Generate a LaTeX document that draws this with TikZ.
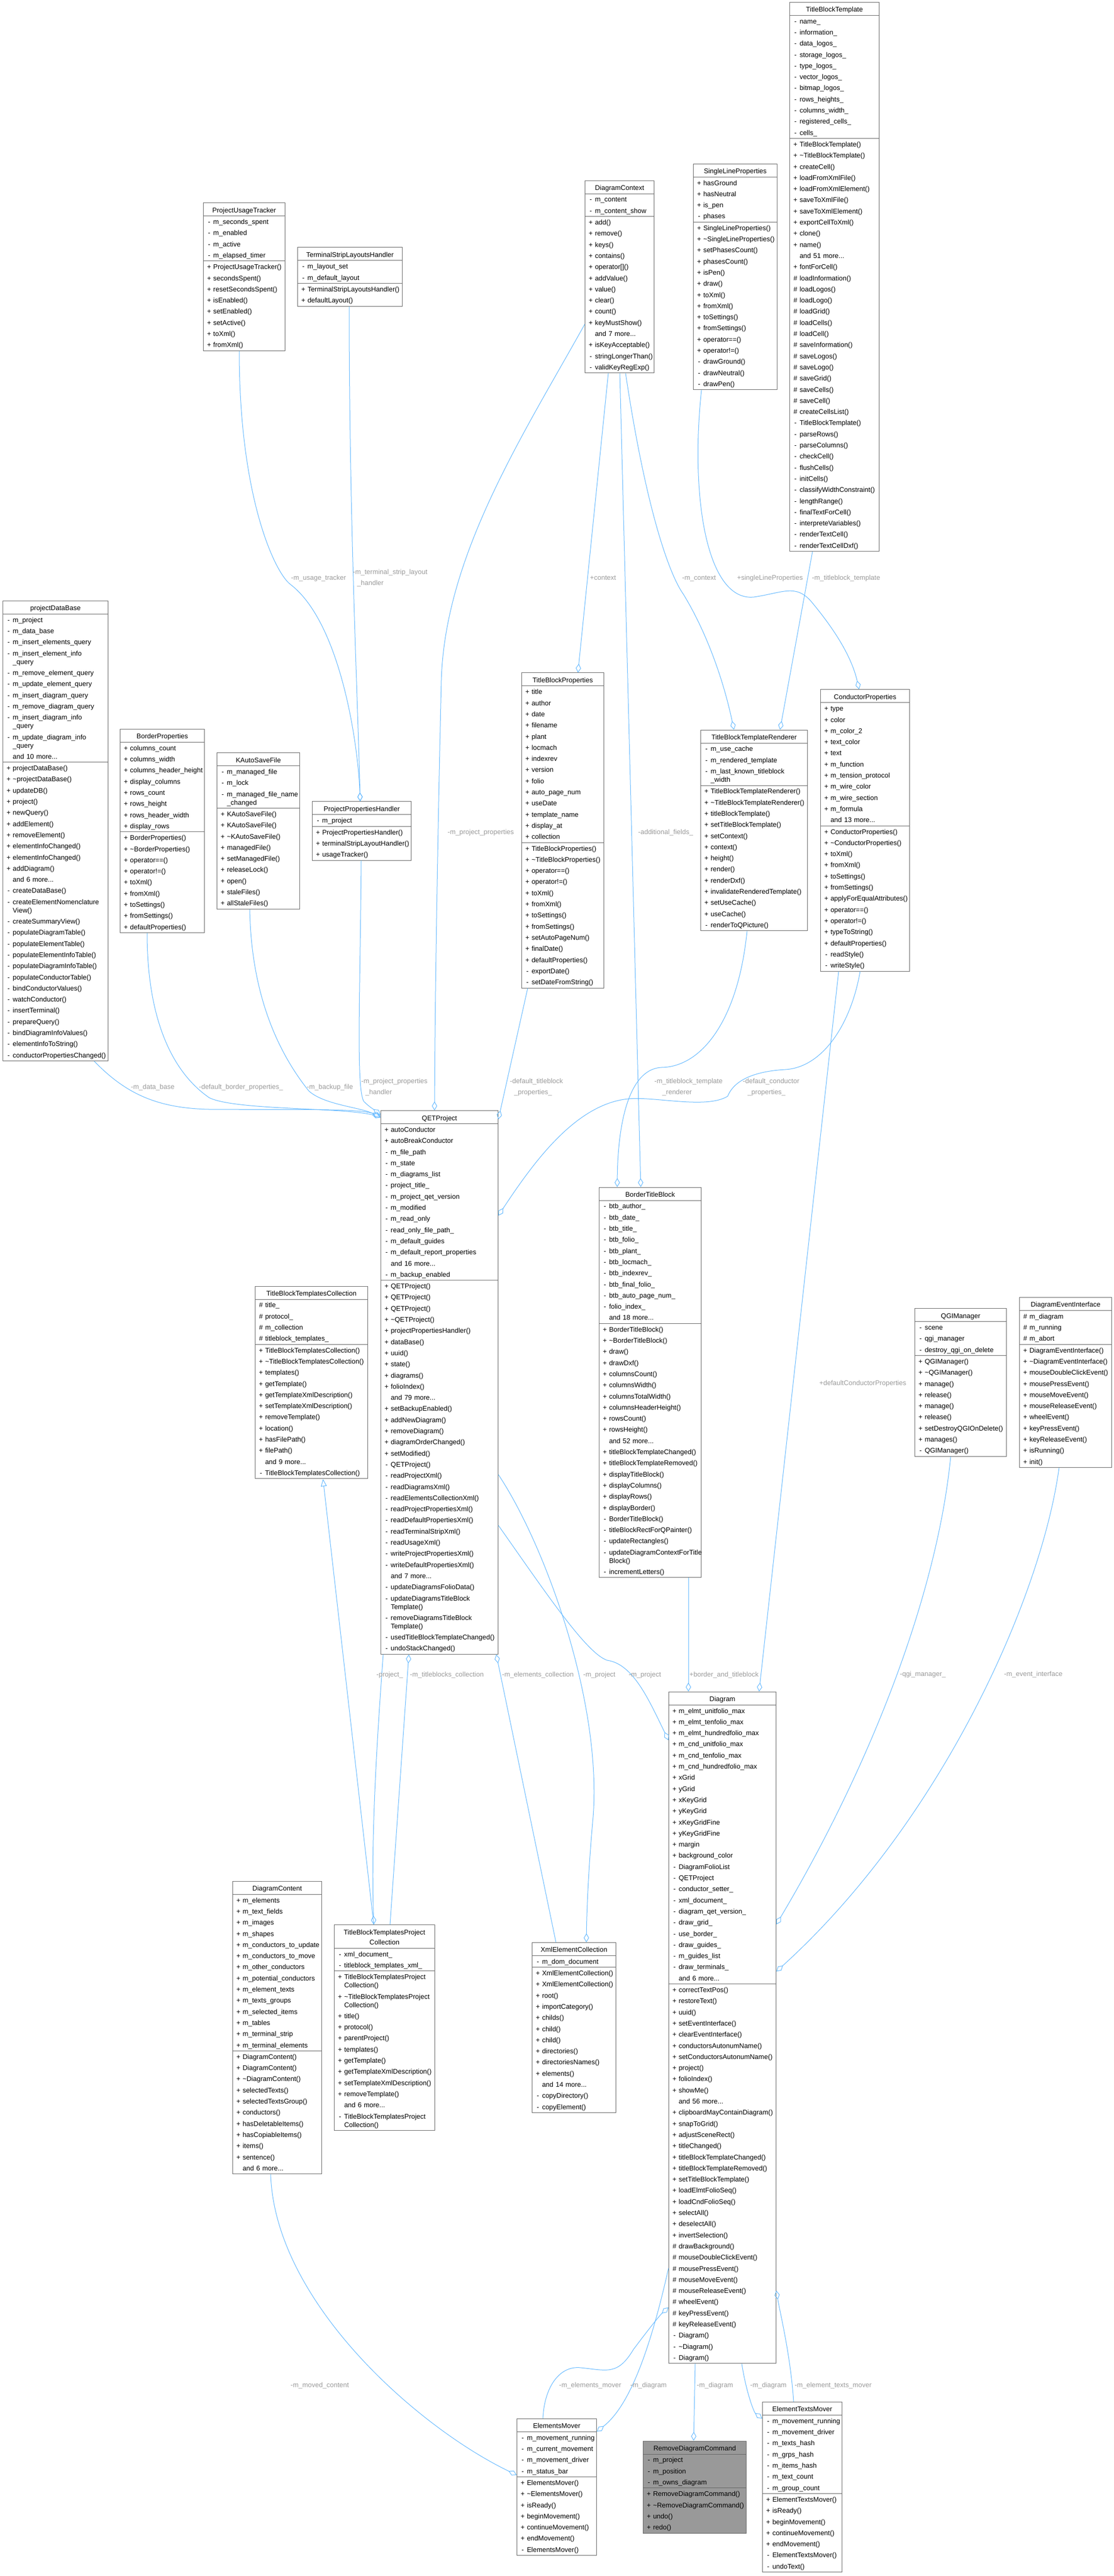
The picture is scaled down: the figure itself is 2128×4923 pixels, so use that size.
\documentclass[tikz,border=0pt]{standalone}
\usepackage{fontspec}
\setmainfont{Liberation Sans}
\usetikzlibrary{shapes.multipart, arrows.meta, calc}
\definecolor{edgeblue}{HTML}{63B8FF}
\definecolor{boxgray}{HTML}{666666}
\definecolor{lblgray}{HTML}{9A9A9A}
\definecolor{cmdfill}{HTML}{999999}
% one row of a class box, the title row, a wrapped row
\newcommand{\rs}{\rule[-5.95pt]{0pt}{21.3pt}}
\newcommand{\ts}{\rule[-6pt]{0pt}{24pt}}
\newcommand{\ls}{\rule[-5.5pt]{0pt}{21pt}}
\newcommand{\ent}[2]{\mbox{\makebox[16pt]{#1}#2}\rs}
\newcommand{\ttl}[1]{\makebox[\linewidth]{#1}\ts}
\newcommand{\wrp}{\\[-5.3pt]}
\newcommand{\tld}{\textasciitilde}
\newcommand{\boxfont}{\fontsize{13}{21.3}\selectfont}
\newcommand{\lblfont}{\fontsize{13}{21}\selectfont}

\begin{document}
\lineskiplimit=-1000pt\relax
\begin{tikzpicture}[x=1pt, y=-1pt,
    cls/.style={rectangle split, rectangle split parts=3, draw=boxgray, line width=1pt,
        fill=white, inner xsep=3pt, inner ysep=0pt, align=left, anchor=west, font=\boxfont},
    lbl/.style={inner sep=0pt, anchor=west, text=lblgray, align=left, font=\lblfont},
    agg/.style={draw=edgeblue, line width=1pt, -{Diamond[open, length=17pt, width=10pt]}},
    inh/.style={draw=edgeblue, line width=1pt, -{Triangle[open, length=14pt, width=11pt]}}]
\useasboundingbox (0,0) rectangle (2128,4923);

% first rank
\node[cls, text width=150pt] (put) at (388,529) {\ttl{ProjectUsageTracker}
    \nodepart{second}\ent-{m\_seconds\_spent}\\\ent-{m\_enabled}\\\ent-{m\_active}\\\ent-{m\_elapsed\_timer}
    \nodepart{third}\ent+{ProjectUsageTracker()}\\\ent+{secondsSpent()}\\\ent+{resetSecondsSpent()}\\\ent+{isEnabled()}\\\ent+{setEnabled()}\\\ent+{setActive()}\\\ent+{toXml()}\\\ent+{fromXml()}};
\node[cls, text width=194pt] (tslh) at (568,529) {\ttl{TerminalStripLayoutsHandler}
    \nodepart{second}\ent-{m\_layout\_set}\\\ent-{m\_default\_layout}
    \nodepart{third}\ent+{TerminalStripLayoutsHandler()}\\\ent+{defaultLayout()}};
\node[cls, text width=126pt] (dctx) at (1117,529) {\ttl{DiagramContext}
    \nodepart{second}\ent-{m\_content}\\\ent-{m\_content\_show}
    \nodepart{third}\ent+{add()}\\\ent+{remove()}\\\ent+{keys()}\\\ent+{contains()}\\\ent+{operator[]()}\\\ent+{addValue()}\\\ent+{value()}\\\ent+{clear()}\\\ent+{count()}\\\ent+{keyMustShow()}\\\ent{}{and 7 more...}\\\ent+{isKeyAcceptable()}\\\ent-{stringLongerThan()}\\\ent-{validKeyRegExp()}};
\node[cls, text width=154pt] (slp) at (1324,529) {\ttl{SingleLineProperties}
    \nodepart{second}\ent+{hasGround}\\\ent+{hasNeutral}\\\ent+{is\_pen}\\\ent-{phases}
    \nodepart{third}\ent+{SingleLineProperties()}\\\ent+{\tld SingleLineProperties()}\\\ent+{setPhasesCount()}\\\ent+{phasesCount()}\\\ent+{isPen()}\\\ent+{draw()}\\\ent+{toXml()}\\\ent+{fromXml()}\\\ent+{toSettings()}\\\ent+{fromSettings()}\\\ent+{operator==()}\\\ent+{operator!=()}\\\ent-{drawGround()}\\\ent-{drawNeutral()}\\\ent-{drawPen()}};
\node[cls, text width=165pt] (tbt) at (1508,529) {\ttl{TitleBlockTemplate}
    \nodepart{second}\ent-{name\_}\\\ent-{information\_}\\\ent-{data\_logos\_}\\\ent-{storage\_logos\_}\\\ent-{type\_logos\_}\\\ent-{vector\_logos\_}\\\ent-{bitmap\_logos\_}\\\ent-{rows\_heights\_}\\\ent-{columns\_width\_}\\\ent-{registered\_cells\_}\\\ent-{cells\_}
    \nodepart{third}\ent+{TitleBlockTemplate()}\\\ent+{\tld TitleBlockTemplate()}\\\ent+{createCell()}\\\ent+{loadFromXmlFile()}\\\ent+{loadFromXmlElement()}\\\ent+{saveToXmlFile()}\\\ent+{saveToXmlElement()}\\\ent+{exportCellToXml()}\\\ent+{clone()}\\\ent+{name()}\\\ent{}{and 51 more...}\\\ent+{fontForCell()}\\\ent\#{loadInformation()}\\\ent\#{loadLogos()}\\\ent\#{loadLogo()}\\\ent\#{loadGrid()}\\\ent\#{loadCells()}\\\ent\#{loadCell()}\\\ent\#{saveInformation()}\\\ent\#{saveLogos()}\\\ent\#{saveLogo()}\\\ent\#{saveGrid()}\\\ent\#{saveCells()}\\\ent\#{saveCell()}\\\ent\#{createCellsList()}\\\ent-{TitleBlockTemplate()}\\\ent-{parseRows()}\\\ent-{parseColumns()}\\\ent-{checkCell()}\\\ent-{flushCells()}\\\ent-{initCells()}\\\ent-{classifyWidthConstraint()}\\\ent-{lengthRange()}\\\ent-{finalTextForCell()}\\\ent-{interpreteVariables()}\\\ent-{renderTextCell()}\\\ent-{renderTextCellDxf()}};

% second rank
\node[cls, text width=195pt] (pdb) at (5,1588) {\ttl{projectDataBase}
    \nodepart{second}\ent-{m\_project}\\\ent-{m\_data\_base}\\\ent-{m\_insert\_elements\_query}\\\ent-{m\_insert\_element\_info}\wrp\ent{}{\_query}\\\ent-{m\_remove\_element\_query}\\\ent-{m\_update\_element\_query}\\\ent-{m\_insert\_diagram\_query}\\\ent-{m\_remove\_diagram\_query}\\\ent-{m\_insert\_diagram\_info}\wrp\ent{}{\_query}\\\ent-{m\_update\_diagram\_info}\wrp\ent{}{\_query}\\\ent{}{and 10 more...}
    \nodepart{third}\ent+{projectDataBase()}\\\ent+{\tld projectDataBase()}\\\ent+{updateDB()}\\\ent+{project()}\\\ent+{newQuery()}\\\ent+{addElement()}\\\ent+{removeElement()}\\\ent+{elementInfoChanged()}\\\ent+{elementInfoChanged()}\\\ent+{addDiagram()}\\\ent{}{and 6 more...}\\\ent-{createDataBase()}\\\ent-{createElementNomenclature}\wrp\ent{}{View()}\\\ent-{createSummaryView()}\\\ent-{populateDiagramTable()}\\\ent-{populateElementTable()}\\\ent-{populateElementInfoTable()}\\\ent-{populateDiagramInfoTable()}\\\ent-{populateConductorTable()}\\\ent-{bindConductorValues()}\\\ent-{watchConductor()}\\\ent-{insertTerminal()}\\\ent-{prepareQuery()}\\\ent-{bindDiagramInfoValues()}\\\ent-{elementInfoToString()}\\\ent-{conductorPropertiesChanged()}};
\node[cls, text width=155pt] (bprop) at (229,1588) {\ttl{BorderProperties}
    \nodepart{second}\ent+{columns\_count}\\\ent+{columns\_width}\\\ent+{columns\_header\_height}\\\ent+{display\_columns}\\\ent+{rows\_count}\\\ent+{rows\_height}\\\ent+{rows\_header\_width}\\\ent+{display\_rows}
    \nodepart{third}\ent+{BorderProperties()}\\\ent+{\tld BorderProperties()}\\\ent+{operator==()}\\\ent+{operator!=()}\\\ent+{toXml()}\\\ent+{fromXml()}\\\ent+{toSettings()}\\\ent+{fromSettings()}\\\ent+{defaultProperties()}};
\node[cls, text width=152pt] (kasf) at (414,1588) {\ttl{KAutoSaveFile}
    \nodepart{second}\ent-{m\_managed\_file}\\\ent-{m\_lock}\\\ent-{m\_managed\_file\_name}\wrp\ent{}{\_changed}
    \nodepart{third}\ent+{KAutoSaveFile()}\\\ent+{KAutoSaveFile()}\\\ent+{\tld KAutoSaveFile()}\\\ent+{managedFile()}\\\ent+{setManagedFile()}\\\ent+{releaseLock()}\\\ent+{open()}\\\ent+{staleFiles()}\\\ent+{allStaleFiles()}};
\node[cls, text width=183pt] (pph) at (596,1588) {\ttl{ProjectPropertiesHandler}
    \nodepart{second}\ent-{m\_project}
    \nodepart{third}\ent+{ProjectPropertiesHandler()}\\\ent+{terminalStripLayoutHandler()}\\\ent+{usageTracker()}};
\node[cls, text width=151pt] (tbp) at (996,1587) {\ttl{TitleBlockProperties}
    \nodepart{second}\ent+{title}\\\ent+{author}\\\ent+{date}\\\ent+{filename}\\\ent+{plant}\\\ent+{locmach}\\\ent+{indexrev}\\\ent+{version}\\\ent+{folio}\\\ent+{auto\_page\_num}\\\ent+{useDate}\\\ent+{template\_name}\\\ent+{display\_at}\\\ent+{collection}
    \nodepart{third}\ent+{TitleBlockProperties()}\\\ent+{\tld TitleBlockProperties()}\\\ent+{operator==()}\\\ent+{operator!=()}\\\ent+{toXml()}\\\ent+{fromXml()}\\\ent+{toSettings()}\\\ent+{fromSettings()}\\\ent+{setAutoPageNum()}\\\ent+{finalDate()}\\\ent+{defaultProperties()}\\\ent-{exportDate()}\\\ent-{setDateFromString()}};
\node[cls, text width=198pt] (tbtr) at (1338,1587) {\ttl{TitleBlockTemplateRenderer}
    \nodepart{second}\ent-{m\_use\_cache}\\\ent-{m\_rendered\_template}\\\ent-{m\_last\_known\_titleblock}\wrp\ent{}{\_width}
    \nodepart{third}\ent+{TitleBlockTemplateRenderer()}\\\ent+{\tld TitleBlockTemplateRenderer()}\\\ent+{titleBlockTemplate()}\\\ent+{setTitleBlockTemplate()}\\\ent+{setContext()}\\\ent+{context()}\\\ent+{height()}\\\ent+{render()}\\\ent+{renderDxf()}\\\ent+{invalidateRenderedTemplate()}\\\ent+{setUseCache()}\\\ent+{useCache()}\\\ent-{renderToQPicture()}};
\node[cls, text width=164pt] (cp) at (1567,1587) {\ttl{ConductorProperties}
    \nodepart{second}\ent+{type}\\\ent+{color}\\\ent+{m\_color\_2}\\\ent+{text\_color}\\\ent+{text}\\\ent+{m\_function}\\\ent+{m\_tension\_protocol}\\\ent+{m\_wire\_color}\\\ent+{m\_wire\_section}\\\ent+{m\_formula}\\\ent{}{and 13 more...}
    \nodepart{third}\ent+{ConductorProperties()}\\\ent+{\tld ConductorProperties()}\\\ent+{toXml()}\\\ent+{fromXml()}\\\ent+{toSettings()}\\\ent+{fromSettings()}\\\ent+{applyForEqualAttributes()}\\\ent+{operator==()}\\\ent+{operator!=()}\\\ent+{typeToString()}\\\ent+{defaultProperties()}\\\ent-{readStyle()}\\\ent-{writeStyle()}};

% third rank
\node[cls, text width=209pt] (tbtc) at (487,2642) {\ttl{TitleBlockTemplatesCollection}
    \nodepart{second}\ent\#{title\_}\\\ent\#{protocol\_}\\\ent\#{m\_collection}\\\ent\#{titleblock\_templates\_}
    \nodepart{third}\ent+{TitleBlockTemplatesCollection()}\\\ent+{\tld TitleBlockTemplatesCollection()}\\\ent+{templates()}\\\ent+{getTemplate()}\\\ent+{getTemplateXmlDescription()}\\\ent+{setTemplateXmlDescription()}\\\ent+{removeTemplate()}\\\ent+{location()}\\\ent+{hasFilePath()}\\\ent+{filePath()}\\\ent{}{and 9 more...}\\\ent-{TitleBlockTemplatesCollection()}};
\node[cls, text width=218pt] (qet) at (727,2642) {\ttl{QETProject}
    \nodepart{second}\ent+{autoConductor}\\\ent+{autoBreakConductor}\\\ent-{m\_file\_path}\\\ent-{m\_state}\\\ent-{m\_diagrams\_list}\\\ent-{project\_title\_}\\\ent-{m\_project\_qet\_version}\\\ent-{m\_modified}\\\ent-{m\_read\_only}\\\ent-{read\_only\_file\_path\_}\\\ent-{m\_default\_guides}\\\ent-{m\_default\_report\_properties}\\\ent{}{and 16 more...}\\\ent-{m\_backup\_enabled}
    \nodepart{third}\ent+{QETProject()}\\\ent+{QETProject()}\\\ent+{QETProject()}\\\ent+{\tld QETProject()}\\\ent+{projectPropertiesHandler()}\\\ent+{dataBase()}\\\ent+{uuid()}\\\ent+{state()}\\\ent+{diagrams()}\\\ent+{folioIndex()}\\\ent{}{and 79 more...}\\\ent+{setBackupEnabled()}\\\ent+{addNewDiagram()}\\\ent+{removeDiagram()}\\\ent+{diagramOrderChanged()}\\\ent+{setModified()}\\\ent-{QETProject()}\\\ent-{readProjectXml()}\\\ent-{readDiagramsXml()}\\\ent-{readElementsCollectionXml()}\\\ent-{readProjectPropertiesXml()}\\\ent-{readDefaultPropertiesXml()}\\\ent-{readTerminalStripXml()}\\\ent-{readUsageXml()}\\\ent-{writeProjectPropertiesXml()}\\\ent-{writeDefaultPropertiesXml()}\\\ent{}{and 7 more...}\\\ent-{updateDiagramsFolioData()}\\\ent-{updateDiagramsTitleBlock}\wrp\ent{}{Template()}\\\ent-{removeDiagramsTitleBlock}\wrp\ent{}{Template()}\\\ent-{usedTitleBlockTemplateChanged()}\\\ent-{undoStackChanged()}};
\node[cls, text width=189pt] (btb) at (1144,2642) {\ttl{BorderTitleBlock}
    \nodepart{second}\ent-{btb\_author\_}\\\ent-{btb\_date\_}\\\ent-{btb\_title\_}\\\ent-{btb\_folio\_}\\\ent-{btb\_plant\_}\\\ent-{btb\_locmach\_}\\\ent-{btb\_indexrev\_}\\\ent-{btb\_final\_folio\_}\\\ent-{btb\_auto\_page\_num\_}\\\ent-{folio\_index\_}\\\ent{}{and 18 more...}
    \nodepart{third}\ent+{BorderTitleBlock()}\\\ent+{\tld BorderTitleBlock()}\\\ent+{draw()}\\\ent+{drawDxf()}\\\ent+{columnsCount()}\\\ent+{columnsWidth()}\\\ent+{columnsTotalWidth()}\\\ent+{columnsHeaderHeight()}\\\ent+{rowsCount()}\\\ent+{rowsHeight()}\\\ent{}{and 52 more...}\\\ent+{titleBlockTemplateChanged()}\\\ent+{titleBlockTemplateRemoved()}\\\ent+{displayTitleBlock()}\\\ent+{displayColumns()}\\\ent+{displayRows()}\\\ent+{displayBorder()}\\\ent-{BorderTitleBlock()}\\\ent-{titleBlockRectForQPainter()}\\\ent-{updateRectangles()}\\\ent-{updateDiagramContextForTitle}\wrp\ent{}{Block()}\\\ent-{incrementLetters()}};
\node[cls, text width=169pt] (qgi) at (1747,2642) {\ttl{QGIManager}
    \nodepart{second}\ent-{scene}\\\ent-{qgi\_manager}\\\ent-{destroy\_qgi\_on\_delete}
    \nodepart{third}\ent+{QGIManager()}\\\ent+{\tld QGIManager()}\\\ent+{manage()}\\\ent+{release()}\\\ent+{manage()}\\\ent+{release()}\\\ent+{setDestroyQGIOnDelete()}\\\ent+{manages()}\\\ent-{QGIManager()}};
\node[cls, text width=170pt] (dei) at (1947,2642) {\ttl{DiagramEventInterface}
    \nodepart{second}\ent\#{m\_diagram}\\\ent\#{m\_running}\\\ent\#{m\_abort}
    \nodepart{third}\ent+{DiagramEventInterface()}\\\ent+{\tld DiagramEventInterface()}\\\ent+{mouseDoubleClickEvent()}\\\ent+{mousePressEvent()}\\\ent+{mouseMoveEvent()}\\\ent+{mouseReleaseEvent()}\\\ent+{wheelEvent()}\\\ent+{keyPressEvent()}\\\ent+{keyReleaseEvent()}\\\ent+{isRunning()}\\\ent+{init()}};

% fourth rank
\node[cls, text width=164pt] (dcnt) at (444,3875) {\ttl{DiagramContent}
    \nodepart{second}\ent+{m\_elements}\\\ent+{m\_text\_fields}\\\ent+{m\_images}\\\ent+{m\_shapes}\\\ent+{m\_conductors\_to\_update}\\\ent+{m\_conductors\_to\_move}\\\ent+{m\_other\_conductors}\\\ent+{m\_potential\_conductors}\\\ent+{m\_element\_texts}\\\ent+{m\_texts\_groups}\\\ent+{m\_selected\_items}\\\ent+{m\_tables}\\\ent+{m\_terminal\_strip}\\\ent+{m\_terminal\_elements}
    \nodepart{third}\ent+{DiagramContent()}\\\ent+{DiagramContent()}\\\ent+{\tld DiagramContent()}\\\ent+{selectedTexts()}\\\ent+{selectedTextsGroup()}\\\ent+{conductors()}\\\ent+{hasDeletableItems()}\\\ent+{hasCopiableItems()}\\\ent+{items()}\\\ent+{sentence()}\\\ent{}{and 6 more...}};
\node[cls, text width=186pt] (tbtpc) at (638,3875) {\ttl{TitleBlockTemplatesProject}\wrp\ttl{Collection}
    \nodepart{second}\ent-{xml\_document\_}\\\ent-{titleblock\_templates\_xml\_}
    \nodepart{third}\ent+{TitleBlockTemplatesProject}\wrp\ent{}{Collection()}\\\ent+{\tld TitleBlockTemplatesProject}\wrp\ent{}{Collection()}\\\ent+{title()}\\\ent+{protocol()}\\\ent+{parentProject()}\\\ent+{templates()}\\\ent+{getTemplate()}\\\ent+{getTemplateXmlDescription()}\\\ent+{setTemplateXmlDescription()}\\\ent+{removeTemplate()}\\\ent{}{and 6 more...}\\\ent-{TitleBlockTemplatesProject}\wrp\ent{}{Collection()}};
\node[cls, text width=154pt] (xec) at (1016,3875) {\ttl{XmlElementCollection}
    \nodepart{second}\ent-{m\_dom\_document}
    \nodepart{third}\ent+{XmlElementCollection()}\\\ent+{XmlElementCollection()}\\\ent+{root()}\\\ent+{importCategory()}\\\ent+{childs()}\\\ent+{child()}\\\ent+{child()}\\\ent+{directories()}\\\ent+{directoriesNames()}\\\ent+{elements()}\\\ent{}{and 14 more...}\\\ent-{copyDirectory()}\\\ent-{copyElement()}};
\node[cls, text width=199pt] (dgm) at (1277,3875) {\ttl{Diagram}
    \nodepart{second}\ent+{m\_elmt\_unitfolio\_max}\\\ent+{m\_elmt\_tenfolio\_max}\\\ent+{m\_elmt\_hundredfolio\_max}\\\ent+{m\_cnd\_unitfolio\_max}\\\ent+{m\_cnd\_tenfolio\_max}\\\ent+{m\_cnd\_hundredfolio\_max}\\\ent+{xGrid}\\\ent+{yGrid}\\\ent+{xKeyGrid}\\\ent+{yKeyGrid}\\\ent+{xKeyGridFine}\\\ent+{yKeyGridFine}\\\ent+{margin}\\\ent+{background\_color}\\\ent-{DiagramFolioList}\\\ent-{QETProject}\\\ent-{conductor\_setter\_}\\\ent-{xml\_document\_}\\\ent-{diagram\_qet\_version\_}\\\ent-{draw\_grid\_}\\\ent-{use\_border\_}\\\ent-{draw\_guides\_}\\\ent-{m\_guides\_list}\\\ent-{draw\_terminals\_}\\\ent{}{and 6 more...}
    \nodepart{third}\ent+{correctTextPos()}\\\ent+{restoreText()}\\\ent+{uuid()}\\\ent+{setEventInterface()}\\\ent+{clearEventInterface()}\\\ent+{conductorsAutonumName()}\\\ent+{setConductorsAutonumName()}\\\ent+{project()}\\\ent+{folioIndex()}\\\ent+{showMe()}\\\ent{}{and 56 more...}\\\ent+{clipboardMayContainDiagram()}\\\ent+{snapToGrid()}\\\ent+{adjustSceneRect()}\\\ent+{titleChanged()}\\\ent+{titleBlockTemplateChanged()}\\\ent+{titleBlockTemplateRemoved()}\\\ent+{setTitleBlockTemplate()}\\\ent+{loadElmtFolioSeq()}\\\ent+{loadCndFolioSeq()}\\\ent+{selectAll()}\\\ent+{deselectAll()}\\\ent+{invertSelection()}\\\ent\#{drawBackground()}\\\ent\#{mouseDoubleClickEvent()}\\\ent\#{mousePressEvent()}\\\ent\#{mouseMoveEvent()}\\\ent\#{mouseReleaseEvent()}\\\ent\#{wheelEvent()}\\\ent\#{keyPressEvent()}\\\ent\#{keyReleaseEvent()}\\\ent-{Diagram()}\\\ent-{\tld Diagram()}\\\ent-{Diagram()}};

% last rank
\node[cls, text width=146pt] (em) at (987,4753) {\ttl{ElementsMover}
    \nodepart{second}\ent-{m\_movement\_running}\\\ent-{m\_current\_movement}\\\ent-{m\_movement\_driver}\\\ent-{m\_status\_bar}
    \nodepart{third}\ent+{ElementsMover()}\\\ent+{\tld ElementsMover()}\\\ent+{isReady()}\\\ent+{beginMovement()}\\\ent+{continueMovement()}\\\ent+{endMovement()}\\\ent-{ElementsMover()}};
\node[cls, text width=191pt, fill=cmdfill] (rdc) at (1228,4753) {\ttl{RemoveDiagramCommand}
    \nodepart{second}\ent-{m\_project}\\\ent-{m\_position}\\\ent-{m\_owns\_diagram}
    \nodepart{third}\ent+{RemoveDiagramCommand()}\\\ent+{\tld RemoveDiagramCommand()}\\\ent+{undo()}\\\ent+{redo()}};
\node[cls, text width=146pt] (etm) at (1456,4753) {\ttl{ElementTextsMover}
    \nodepart{second}\ent-{m\_movement\_running}\\\ent-{m\_movement\_driver}\\\ent-{m\_texts\_hash}\\\ent-{m\_grps\_hash}\\\ent-{m\_items\_hash}\\\ent-{m\_text\_count}\\\ent-{m\_group\_count}
    \nodepart{third}\ent+{ElementTextsMover()}\\\ent+{isReady()}\\\ent+{beginMovement()}\\\ent+{continueMovement()}\\\ent+{endMovement()}\\\ent-{ElementTextsMover()}\\\ent-{undoText()}};

% connectors, first rank down
\draw[agg] ($(put.south west)+(69,0)$) .. controls (457,950) and (525,1095) .. (555,1117) .. controls (650,1190) and (684,1420) .. ($(pph.north west)+(92,0)$);
\draw[agg] ($(tslh.south west)+(99,0)$) .. controls (667,1000) and (684,1350) .. ($(pph.north west)+(92,0)$);
\draw[agg] ($(dctx.north west)+(0,275)$) .. controls (1000,830) and (850,1060) .. (843,1300) .. controls (836,1600) and (831,1900) .. ($(qet.north west)+(103,0)$);
\draw[agg] ($(dctx.south west)+(45,0)$) -- ($(tbp.north west)+(108,0)$);
\draw[agg] ($(dctx.south west)+(67,0)$) -- ($(btb.north west)+(80,0)$);
\draw[agg] ($(dctx.south west)+(78,0)$) .. controls (1235,980) and (1280,1100) .. (1305,1135) .. controls (1345,1200) and (1380,1290) .. ($(tbtr.north west)+(64,0)$);
\draw[agg] ($(slp.south west)+(16,0)$) .. controls (1318,950) and (1350,1150) .. (1440,1141) .. controls (1495,1133) and (1520,1115) .. (1550,1150) .. controls (1600,1210) and (1628,1260) .. ($(cp.north west)+(74,0)$);
\draw[agg] ($(tbt.south west)+(44,0)$) -- ($(tbtr.north west)+(152,0)$);

% second rank down
\draw[agg] ($(pdb.south west)+(175,0)$) .. controls (240,2090) and (300,2118) .. (400,2120) .. controls (550,2121) and (680,2118) .. ($(qet.north west)+(0,10)$);
\draw[agg] ($(bprop.south west)+(52,0)$) .. controls (281,1950) and (330,2050) .. (400,2098) .. controls (450,2122) and (650,2116) .. ($(qet.north west)+(0,12)$);
\draw[agg] ($(kasf.south west)+(63,0)$) .. controls (480,1900) and (530,2010) .. (590,2085) .. controls (620,2112) and (690,2116) .. ($(qet.north west)+(0,14)$);
\draw[agg] ($(pph.south west)+(94,0)$) .. controls (688,1900) and (680,2080) .. (695,2105) .. controls (705,2115) and (715,2121) .. ($(qet.north west)+(0,8)$);
\draw[agg] ($(tbp.south west)+(12,0)$) -- ($(qet.north east)+(0,17)$);
\draw[agg] ($(tbtr.south west)+(89,0)$) .. controls (1410,1950) and (1340,2040) .. (1262,2040) .. controls (1200,2045) and (1180,2150) .. ($(btb.north west)+(35,0)$);
\draw[agg] ($(cp.south west)+(76,0)$) .. controls (1625,1960) and (1570,2040) .. (1500,2044) .. controls (1430,2048) and (1400,2070) .. (1390,2095) .. controls (1350,2120) and (1250,2095) .. (1200,2100) .. controls (1100,2110) and (1020,2220) .. ($(qet.north east)+(0,201)$);
\draw[agg] ($(cp.south west)+(35,0)$) -- ($(dgm.north west)+(173,0)$);

% third rank down
\draw[inh] ($(tbtpc.north west)+(76,0)$) -- ($(tbtc.south west)+(130,0)$);
\draw[agg] ($(qet.south west)+(5,0)$) .. controls (722,3300) and (708,3500) .. ($(tbtpc.north west)+(76,0)$);
\draw[agg] ($(tbtpc.north west)+(107,0)$) -- ($(qet.south west)+(54,0)$);
\draw[agg] ($(xec.north west)+(46,0)$) -- ($(qet.south west)+(221,0)$);
\draw[agg] ($(qet.north east)+(0,696)$) .. controls (1040,2950) and (1150,3250) .. (1133,3472) .. controls (1125,3560) and (1121,3640) .. ($(xec.north west)+(104,0)$);
\draw[agg] ($(qet.north east)+(0,793)$) .. controls (1040,3040) and (1120,3160) .. (1160,3173) .. controls (1210,3180) and (1240,3250) .. ($(dgm.north west)+(0,93)$);
\draw[agg] ($(btb.south west)+(171,0)$) -- ($(dgm.north west)+(38,0)$);
\draw[agg] ($(qgi.south west)+(69,0)$) .. controls (1790,3050) and (1660,3380) .. ($(dgm.north east)+(0,445)$);
\draw[agg] ($(dei.south west)+(76,0)$) .. controls (1990,3050) and (1800,3480) .. ($(dgm.north east)+(0,535)$);

% fourth rank down
\draw[agg] ($(dcnt.south west)+(73,0)$) .. controls (525,4400) and (800,4640) .. ($(em.north west)+(0,108)$);
\draw[agg] ($(em.north west)+(50,0)$) .. controls (1040,4560) and (1070,4520) .. (1110,4525) .. controls (1160,4530) and (1180,4540) .. (1210,4490) .. controls (1240,4450) and (1260,4425) .. ($(dgm.north west)+(0,1177)$);
\draw[agg] ($(dgm.north west)+(0,1102)$) .. controls (1240,4500) and (1200,4600) .. ($(em.north east)+(0,25)$);
\draw[agg] ($(dgm.south west)+(51,0)$) -- ($(rdc.north west)+(97,0)$);
\draw[agg] ($(dgm.south west)+(140,0)$) .. controls (1425,4570) and (1440,4610) .. ($(etm.north west)+(0,32)$);
\draw[agg] ($(etm.north west)+(60,0)$) .. controls (1510,4500) and (1490,4420) .. ($(dgm.north east)+(0,1145)$);

% labels
\node[lbl] (l1) at (556,1103) {\ls-m\_usage\_tracker};
\node[lbl] (l2) at (674,1102.5) {\ls-m\_terminal\_strip\_layout\\\ls\hspace{8pt}\_handler};
\node[lbl] (l3) at (1127,1103) {\ls+context};
\node[lbl] (l4) at (1303,1103) {\ls-m\_context};
\node[lbl] (l5) at (1408,1103) {\ls+singleLineProperties};
\node[lbl] (l6) at (1551,1103) {\ls-m\_titleblock\_template};
\node[lbl] (l7) at (855,1589) {\ls-m\_project\_properties};
\node[lbl] (l8) at (1219,1589) {\ls-additional\_fields\_};
\node[lbl] (l9) at (250,2076) {\ls-m\_data\_base};
\node[lbl] (l10) at (380,2076) {\ls-default\_border\_properties\_};
\node[lbl] (l11) at (586,2076) {\ls-m\_backup\_file};
\node[lbl] (l12) at (690,2075.5) {\ls-m\_project\_properties\\\ls\hspace{8pt}\_handler};
\node[lbl] (l13) at (974,2075.5) {\ls-default\_titleblock\\\ls\hspace{8pt}\_properties\_};
\node[lbl] (l14) at (1250,2075.5) {\ls-m\_titleblock\_template\\\ls\hspace{15pt}\_renderer};
\node[lbl] (l15) at (1419,2075.5) {\ls-default\_conductor\\\ls\hspace{9pt}\_properties\_};
\node[lbl] (l16) at (1565,2642) {\ls+defaultConductorProperties};
\node[lbl] (l17) at (719,3199) {\ls-project\_};
\node[lbl] (l18) at (783,3199) {\ls-m\_titleblocks\_collection};
\node[lbl] (l19) at (959,3199) {\ls-m\_elements\_collection};
\node[lbl] (l20) at (1114,3199) {\ls-m\_project};
\node[lbl] (l21) at (1201,3199) {\ls-m\_project};
\node[lbl] (l22) at (1317,3199) {\ls+border\_and\_titleblock};
\node[lbl] (l23) at (1719,3198) {\ls-qgi\_manager\_};
\node[lbl] (l24) at (1918,3198) {\ls-m\_event\_interface};
\node[lbl] (l25) at (555,4557) {\ls-m\_moved\_content};
\node[lbl] (l26) at (1068,4557) {\ls-m\_elements\_mover};
\node[lbl] (l27) at (1204,4557) {\ls-m\_diagram};
\node[lbl] (l28) at (1331,4557) {\ls-m\_diagram};
\node[lbl] (l29) at (1433,4557) {\ls-m\_diagram};
\node[lbl] (l30) at (1518,4557) {\ls-m\_element\_texts\_mover};
\end{tikzpicture}
\end{document}
